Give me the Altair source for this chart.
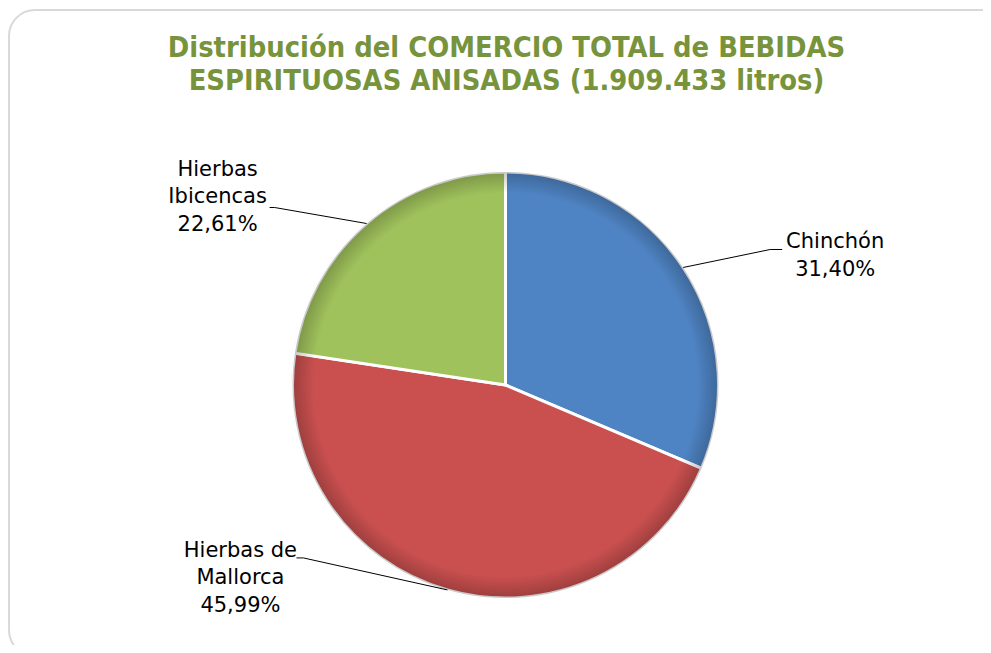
import altair as alt
import pandas as pd

# ---- data ----
categories = ["Chinchón", "Hierbas de Mallorca", "Hierbas Ibicencas"]
shares = [31.40, 45.99, 22.61]
label_lines = [["Chinchón", "31,40%"], ["Hierbas de", "Mallorca", "45,99%"], ["Hierbas", "Ibicencas", "22,61%"]]
colors = ["#4F84C4", "#C9504F", "#A0C25C"]
title_lines = ["Distribución del COMERCIO TOTAL de BEBIDAS", "ESPIRITUOSAS ANISADAS (1.909.433 litros)"]

df = pd.DataFrame({
    "category": categories,
    "value": shares,
    "order": list(range(len(categories))),
    "label": ["\n".join(l) for l in label_lines],
})

W, H = 975, 637
CX, CY, R = 497.5, 377, 213
FONT = "DejaVu Sans Condensed"
LABEL_FONT = "DejaVu Sans"

# annotation layout (manual label placement, as in the reference)
elbow_dx = "[87, -144, -92][datum.order]"
elbow_dy = "[-18, -32, -16][datum.order]"
tail_dx = "[12, -7, -5][datum.order]"
text_dx = "[65, -63, -57][datum.order]"
text_dy = "[-7, -7, -38][datum.order]"

base = alt.Chart(df)

border = alt.Chart(pd.DataFrame({"a": [0]})).mark_rect(
    fill="white", stroke="#d9d9d9", strokeWidth=2, cornerRadius=26
).encode(x=alt.value(1), x2=alt.value(1004), y=alt.value(2), y2=alt.value(648))

color_scale = alt.Scale(domain=categories, range=colors)

slices = base.mark_arc(outerRadius=R, stroke="white", strokeWidth=3).encode(
    theta=alt.Theta("value:Q", stack=True),
    order=alt.Order("order:Q"),
    color=alt.Color("category:N", scale=color_scale, legend=None),
    x=alt.value(CX), y=alt.value(CY),
)

shade = alt.Chart(pd.DataFrame({"a": [0]})).mark_arc(
    outerRadius=R, theta=0, theta2=6.2832,
    fill=alt.Gradient(
        gradient="radial", x1=0.5, y1=0.5, r1=0, x2=0.5, y2=0.5, r2=0.5,
        stops=[
            alt.GradientStop(offset=0, color="rgba(0,0,0,0)"),
            alt.GradientStop(offset=0.9, color="rgba(0,0,0,0)"),
            alt.GradientStop(offset=1, color="rgba(0,0,0,0.22)"),
        ],
    ),
).encode(x=alt.value(CX), y=alt.value(CY))

rim = alt.Chart(pd.DataFrame({"a": [0]})).mark_arc(
    outerRadius=R + 1, innerRadius=R - 1, theta=0, theta2=6.2832,
    fill="#c8c8c8",
).encode(x=alt.value(CX), y=alt.value(CY))

geo = base.transform_joinaggregate(total="sum(value)").transform_window(
    cum="sum(value)", sort=[alt.SortField("order")], frame=[None, 0]
).transform_calculate(
    mid="(datum.cum - datum.value/2) / datum.total * 2 * PI",
).transform_calculate(
    ex=f"{CX} + {R} * sin(datum.mid)",
    ey=f"{CY} - {R} * cos(datum.mid)",
).transform_calculate(
    bx=f"datum.ex + {elbow_dx}",
    by=f"datum.ey + {elbow_dy}",
).transform_calculate(
    tx=f"datum.bx + {tail_dx}",
    lx=f"datum.bx + {text_dx}",
    ly=f"datum.by + {text_dy}",
)

lead1 = geo.mark_rule(color="black", strokeWidth=1).encode(
    x=alt.X("ex:Q", scale=None), y=alt.Y("ey:Q", scale=None),
    x2="bx:Q", y2="by:Q",
)
lead2 = geo.mark_rule(color="black", strokeWidth=1).encode(
    x=alt.X("bx:Q", scale=None), y=alt.Y("by:Q", scale=None),
    x2="tx:Q", y2="by:Q",
)
labels = geo.mark_text(
    font=LABEL_FONT, fontSize=21, color="black", align="center", baseline="middle",
    lineBreak="\n", lineHeight=27.5,
).encode(
    x=alt.X("lx:Q", scale=None), y=alt.Y("ly:Q", scale=None), text="label:N",
)

title = alt.Chart(pd.DataFrame({"t": ["\n".join(title_lines)]})).mark_text(
    font=FONT, fontSize=28.8, fontWeight="bold", color="#77933C",
    align="center", baseline="middle", lineBreak="\n", lineHeight=33,
).encode(x=alt.value(CX + 1), y=alt.value(39.5), text="t:N")

chart = alt.layer(border, title, rim, slices, shade, lead1, lead2, labels).properties(
    width=W, height=H, autosize=alt.AutoSizeParams(type="none"), padding=0,
    background="white",
).configure_view(stroke=None)

chart.save("out.html", embed_options={"renderer": "svg", "actions": False})
